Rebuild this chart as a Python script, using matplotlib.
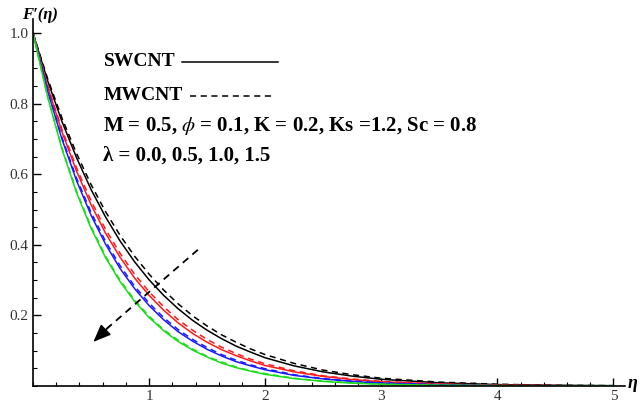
import matplotlib
matplotlib.use("Agg")
import matplotlib.pyplot as plt
from matplotlib.ticker import MultipleLocator

eta = [0.0, 0.125, 0.25, 0.375, 0.5, 0.625, 0.75, 0.875, 1.0, 1.125, 1.25, 1.375,
       1.5, 1.625, 1.75, 1.875, 2.0, 2.25, 2.5, 2.75, 3.0, 3.5, 4.0, 4.5, 5.0]

# lambda = 0.0, 0.5, 1.0, 1.5 ; SWCNT solid, MWCNT dashed
sw_l00 = [1.000, 0.866, 0.749, 0.647, 0.557, 0.479, 0.411, 0.352, 0.301, 0.257, 0.219, 0.186, 0.158,
          0.134, 0.113, 0.096, 0.080, 0.057, 0.040, 0.028, 0.019, 0.009, 0.004, 0.002, 0.001]
mw_l00 = [1.000, 0.872, 0.759, 0.659, 0.571, 0.494, 0.427, 0.368, 0.317, 0.272, 0.233, 0.199, 0.170,
          0.145, 0.124, 0.105, 0.089, 0.064, 0.045, 0.032, 0.022, 0.011, 0.005, 0.002, 0.001]
sw_l05 = [1.000, 0.849, 0.720, 0.609, 0.514, 0.433, 0.365, 0.306, 0.257, 0.215, 0.179, 0.149, 0.124,
          0.103, 0.086, 0.071, 0.058, 0.040, 0.027, 0.018, 0.012, 0.005, 0.002, 0.001, 0.000]
mw_l05 = [1.000, 0.853, 0.727, 0.618, 0.525, 0.444, 0.376, 0.317, 0.267, 0.225, 0.188, 0.158, 0.132,
          0.110, 0.092, 0.076, 0.063, 0.043, 0.029, 0.020, 0.013, 0.006, 0.002, 0.001, 0.000]
sw_l10 = [1.000, 0.837, 0.699, 0.582, 0.484, 0.402, 0.333, 0.276, 0.228, 0.188, 0.154, 0.127, 0.104,
          0.085, 0.069, 0.057, 0.046, 0.030, 0.020, 0.013, 0.008, 0.003, 0.001, 0.000, 0.000]
mw_l10 = [1.000, 0.840, 0.704, 0.589, 0.492, 0.410, 0.341, 0.283, 0.235, 0.194, 0.160, 0.132, 0.109,
          0.089, 0.073, 0.060, 0.049, 0.032, 0.021, 0.014, 0.009, 0.004, 0.001, 0.001, 0.000]
sw_l15 = [1.000, 0.820, 0.671, 0.548, 0.447, 0.364, 0.296, 0.240, 0.194, 0.157, 0.126, 0.102, 0.082,
          0.065, 0.052, 0.042, 0.033, 0.021, 0.013, 0.008, 0.005, 0.002, 0.001, 0.000, 0.000]
mw_l15 = [1.000, 0.822, 0.675, 0.552, 0.452, 0.368, 0.300, 0.244, 0.198, 0.160, 0.130, 0.105, 0.084,
          0.068, 0.054, 0.043, 0.035, 0.022, 0.014, 0.009, 0.005, 0.002, 0.001, 0.000, 0.000]

colors = ["black", "#ff1a1a", "#1a1aff", "#1adc1a"]
solid = [sw_l00, sw_l05, sw_l10, sw_l15]
dashed = [mw_l00, mw_l05, mw_l10, mw_l15]

plt.rcParams["font.family"] = ["Liberation Serif", "DejaVu Serif"]
plt.rcParams["mathtext.fontset"] = "stix"

fig = plt.figure(figsize=(6.44, 4.05), dpi=100)
ax = fig.add_axes([33 / 644, 19 / 405, 592 / 644, 367 / 405])
ax.set_xlim(0, 5.1)
ax.set_ylim(0, 1.04)

for c, s, d in zip(colors, solid, dashed):
    ax.plot(eta, s, color=c, lw=1.1)
    ax.plot(eta, d, color=c, lw=1.1, ls=(0, (4, 3)))

# direction arrow (increasing lambda)
ax.plot([1.42, 0.62], [0.386, 0.158], color="black", lw=1.3, ls=(0, (4, 3)))
ax.annotate("", xy=(0.52, 0.125), xytext=(0.66, 0.170),
            arrowprops=dict(arrowstyle="-|>,head_length=1.1,head_width=0.45",
                            color="black", lw=1.0, shrinkA=0, shrinkB=0))

for side in ("top", "right"):
    ax.spines[side].set_visible(False)
ax.spines["left"].set_linewidth(1.2)
ax.spines["bottom"].set_linewidth(1.2)

ax.xaxis.set_minor_locator(MultipleLocator(0.2))
ax.yaxis.set_minor_locator(MultipleLocator(0.05))
ax.set_xticks([1, 2, 3, 4, 5])
ax.set_yticks([0.2, 0.4, 0.6, 0.8, 1.0])
ax.tick_params(which="major", direction="in", length=6, width=1.0, labelsize=11,
               labelcolor="#333333", pad=3)
ax.tick_params(which="minor", direction="in", length=3, width=0.8)

txt = dict(transform=ax.transAxes, fontweight="bold", va="center", ha="left")
def ax_x(px):
    return (px - 33) / 592
def ax_y(py):
    return (386 - py) / 367

ax.text(ax_x(104), ax_y(62), "SWCNT", fontsize=14, **txt)
ax.plot([ax_x(182), ax_x(278)], [ax_y(62)] * 2, transform=ax.transAxes, color="black", lw=1.1)
ax.text(ax_x(104), ax_y(96), "MWCNT", fontsize=14, **txt)
ax.plot([ax_x(190), ax_x(274)], [ax_y(96)] * 2, transform=ax.transAxes, color="black", lw=1.1,
        ls=(0, (4, 3)))
ax.text(ax_x(103), ax_y(126), r"M = 0.5, $\phi$ = 0.1, K = 0.2, Ks =1.2, Sc = 0.8",
        fontsize=15, **txt)
ax.text(ax_x(103), ax_y(156), "λ = 0.0, 0.5, 1.0, 1.5", fontsize=15, **txt)

fig.text(22 / 644, 1 - 15 / 405, "F′(η)", fontsize=12, fontweight="bold", fontstyle="italic",
         va="center", ha="left")
fig.text(628 / 644, 1 - 383 / 405, "η", fontsize=13, fontweight="bold", fontstyle="italic",
         va="center", ha="left")

fig.savefig("out.png", dpi=100)
